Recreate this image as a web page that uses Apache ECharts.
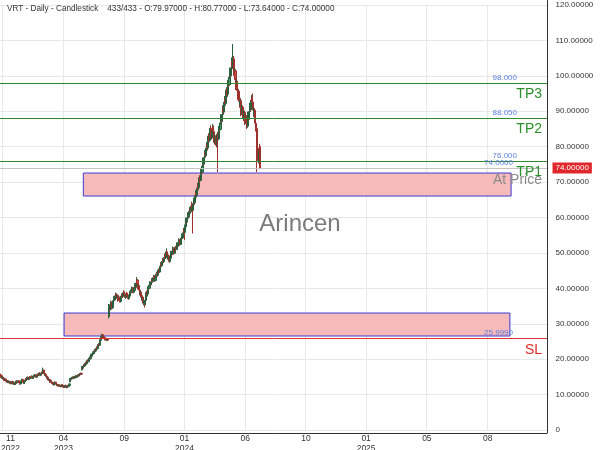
<!DOCTYPE html>
<html>
<head>
<meta charset="utf-8">
<script src="https://cdn.jsdelivr.net/npm/echarts/dist/echarts.min.js"></script>
<style>html,body{margin:0;padding:0;background:#fff}#c{width:600px;height:450px}</style>
</head>
<body>
<div id="c"></div>
<script>
// Daily candles, each row: [open, close, low, high]
const candles = [
[15.2,15.6,15.0,15.9],[15.6,15.3,15.1,15.8],[15.3,14.8,14.6,15.4],[14.8,14.9,14.5,15.2],[14.9,14.5,14.3,15.0],[14.5,14.7,14.3,14.9],[14.7,14.3,14.1,14.8],[14.3,14.0,13.8,14.5],[14.0,14.4,13.9,14.6],[14.4,14.1,13.9,14.5],
[14.1,13.7,13.5,14.2],[13.7,13.9,13.5,14.1],[13.9,13.5,13.3,14.0],[13.5,13.8,13.4,14.0],[13.8,13.4,13.2,13.9],[13.4,13.6,13.2,13.8],[13.6,13.3,13.1,13.7],[13.3,13.5,13.1,13.7],[13.5,13.1,12.9,13.6],[13.1,13.3,12.9,13.5],
[13.3,13.7,13.2,13.9],[13.7,13.4,13.2,13.8],[13.4,13.0,12.8,13.5],[13.0,13.2,12.8,13.4],[13.2,12.9,12.7,13.3],[12.9,13.1,12.7,13.3],[13.1,13.5,13.0,13.7],[13.5,13.8,13.3,14.0],[13.8,13.4,13.2,13.9],[13.4,13.6,13.2,13.8],
[13.6,13.9,13.4,14.1],[13.9,13.5,13.3,14.0],[13.5,13.2,13.0,13.6],[13.2,13.0,12.8,13.4],[13.0,13.4,12.9,13.6],[13.4,13.9,13.3,14.1],[13.9,14.3,13.7,14.5],[14.3,13.9,13.7,14.4],[13.9,13.5,13.3,14.0],[13.5,13.2,13.0,13.6],
[13.2,13.6,13.0,13.8],[13.6,14.0,13.5,14.2],[14.0,14.4,13.8,14.6],[14.4,14.2,14.0,14.7],[14.2,14.6,14.0,14.8],[14.6,14.9,14.4,15.1],[14.9,14.5,14.3,15.0],[14.5,14.3,14.1,14.7],[14.3,14.7,14.2,14.9],[14.7,15.0,14.5,15.2],
[15.0,14.6,14.4,15.1],[14.6,14.8,14.4,15.0],[14.8,15.2,14.7,15.4],[15.2,14.9,14.7,15.3],[14.9,14.6,14.4,15.0],[14.6,15.0,14.5,15.2],[15.0,15.4,14.9,15.6],[15.4,15.1,14.9,15.5],[15.1,15.6,15.0,15.8],[15.6,15.3,15.1,15.8],
[15.3,14.9,14.7,15.4],[14.9,15.3,14.8,15.5],[15.3,15.7,15.2,15.9],[15.7,15.4,15.2,15.9],[15.4,15.8,15.3,16.0],[15.8,16.1,15.6,16.3],[16.1,15.7,15.5,16.2],[15.7,15.5,15.3,15.9],[15.5,15.9,15.4,16.1],[15.9,16.3,15.8,16.5],
[16.3,16.0,15.8,16.6],[16.0,16.9,15.9,17.6],[16.9,16.2,16.0,17.1],[16.2,16.0,15.8,16.4],[16.0,15.5,15.3,16.1],[15.5,15.7,15.3,15.9],[15.7,15.2,15.0,15.8],[15.2,14.8,14.6,15.3],[14.8,14.9,14.5,15.1],[14.9,14.4,14.2,15.0],
[14.4,14.1,13.9,14.5],[14.1,14.3,13.9,14.5],[14.3,13.8,13.6,14.4],[13.8,13.6,13.3,13.9],[13.6,13.9,13.4,14.1],[13.9,13.5,13.3,14.0],[13.5,13.2,13.0,13.6],[13.2,13.4,12.9,13.6],[13.4,13.0,12.8,13.5],[13.0,12.8,12.6,13.2],
[12.8,13.1,12.6,13.3],[13.1,13.5,13.0,13.7],[13.5,13.2,13.0,13.6],[13.2,12.9,12.7,13.3],[12.9,12.6,12.4,13.0],[12.6,12.8,12.4,13.0],[12.8,12.5,12.3,12.9],[12.5,12.7,12.3,12.9],[12.7,12.4,12.2,12.8],[12.4,12.6,12.2,12.8],
[12.6,12.3,12.1,12.7],[12.3,12.5,12.1,12.7],[12.5,12.8,12.4,13.0],[12.8,12.5,12.3,12.9],[12.5,12.2,12.0,12.6],[12.2,12.4,12.0,12.6],[12.4,12.1,11.9,12.5],[12.1,12.3,11.9,12.5],[12.3,12.6,12.2,12.8],[12.6,12.3,12.1,12.7],
[12.3,12.0,11.8,12.4],[12.0,12.2,11.8,12.4],[12.2,12.5,12.1,12.7],[12.5,12.3,12.1,12.6],[12.3,12.6,12.2,12.8],[12.6,13.0,12.5,13.2],[13.6,14.5,13.5,14.7],[14.5,14.3,14.1,14.7],[14.3,14.7,14.2,14.9],[14.7,14.5,14.3,14.9],
[14.5,14.9,14.4,15.1],[14.9,14.6,14.4,15.0],[14.6,14.8,14.4,15.0],[14.8,15.1,14.7,15.3],[15.1,14.8,14.6,15.2],[14.8,15.0,14.6,15.2],[15.0,15.3,14.9,15.5],[15.3,15.0,14.8,15.4],[15.0,15.2,14.8,15.4],[15.2,15.5,15.1,15.7],
[15.5,15.3,15.1,15.6],[15.3,15.6,15.2,15.8],[15.6,15.9,15.5,16.1],[15.9,15.7,15.5,16.0],[15.7,16.0,15.6,16.2],[16.0,15.8,15.6,16.1],[17.0,17.8,16.8,18.1],[17.8,17.5,17.2,18.0],[17.5,18.0,17.4,18.3],[18.0,18.4,17.8,18.6],
[18.4,18.1,17.9,18.7],[18.1,18.6,18.0,18.9],[18.6,19.0,18.4,19.3],[19.0,18.7,18.5,19.2],[18.7,19.2,18.6,19.5],[19.2,19.6,19.0,19.9],[19.6,19.3,19.1,19.9],[19.3,19.8,19.2,20.1],[19.8,20.3,19.6,20.6],[20.3,20.1,19.8,20.6],
[20.1,20.7,20.0,21.0],[20.7,21.2,20.5,21.5],[21.2,20.9,20.6,21.4],[20.9,21.5,20.8,21.8],[21.5,21.9,21.3,22.2],[21.9,21.6,21.3,22.1],[21.6,22.1,21.5,22.4],[22.1,22.6,22.0,22.9],[22.6,22.3,22.0,22.8],[22.3,22.8,22.2,23.1],
[22.8,23.3,22.6,23.6],[23.3,23.0,22.7,23.5],[23.0,23.6,22.9,23.9],[23.6,24.2,23.4,24.5],[24.2,23.9,23.6,24.4],[23.9,24.6,23.8,24.9],[24.6,25.3,24.4,25.6],[25.3,25.9,25.1,26.2],[25.9,26.4,25.7,26.8],[26.4,26.9,26.1,27.2],
[26.9,26.5,26.2,27.1],[26.5,26.0,25.8,26.7],[26.0,26.3,25.8,26.6],[26.3,25.8,25.6,26.4],[25.8,25.5,25.3,26.0],[25.5,25.9,25.3,26.1],[25.9,25.6,25.4,26.0],[25.6,25.3,25.1,25.8],[25.3,25.7,25.2,25.9],[25.7,25.4,25.2,25.8],
[32.0,33.5,31.5,34.5],[33.5,34.8,33.2,35.6],[34.8,34.0,33.5,35.5],[34.0,35.2,33.8,35.8],[35.2,36.0,34.9,36.5],[36.0,35.3,34.8,36.3],[35.3,34.5,34.0,35.6],[34.5,35.4,34.2,35.9],[35.4,36.5,35.1,37.0],[36.5,37.3,36.2,37.8],
[37.3,36.8,36.4,37.7],[36.8,37.5,36.5,38.0],[37.5,38.3,37.2,38.8],[38.3,37.6,37.2,38.6],[37.6,38.0,37.1,38.4],[38.0,37.2,36.8,38.3],[37.2,36.7,36.2,37.5],[36.7,37.4,36.5,37.8],[37.4,36.9,36.6,37.7],[36.9,36.3,36.0,37.1],
[36.3,36.8,36.0,37.2],[36.8,37.5,36.6,37.9],[37.5,38.2,37.3,38.6],[38.2,37.7,37.3,38.5],[37.7,38.4,37.5,38.8],[38.4,39.0,38.1,39.4],[39.0,38.5,38.2,39.3],[38.5,37.9,37.6,38.8],[37.9,37.4,37.1,38.1],[37.4,37.9,37.1,38.3],
[37.9,38.6,37.7,39.0],[38.6,38.2,37.8,39.0],[38.2,37.6,37.3,38.4],[37.6,37.1,36.8,37.9],[37.1,37.8,36.9,38.1],[37.8,38.5,37.6,38.9],[38.5,39.2,38.3,39.6],[39.2,38.8,38.4,39.6],[38.8,39.5,38.6,39.9],[39.5,40.1,39.2,40.5],
[40.1,39.6,39.2,40.4],[39.6,38.9,38.6,39.9],[38.9,39.4,38.7,39.8],[39.4,40.2,39.1,40.6],[40.2,41.0,39.9,41.5],[41.0,40.4,40.0,41.3],[40.4,41.5,40.2,42.0],[41.5,42.3,41.1,43.2],[42.3,41.2,40.8,42.6],[41.2,40.1,39.7,41.5],
[40.1,40.6,39.6,41.1],[40.6,39.5,39.1,40.9],[39.5,38.4,38.0,39.8],[38.4,38.9,38.0,39.4],[38.9,37.8,37.4,39.2],[37.8,36.9,36.5,38.1],[36.9,37.5,36.4,38.0],[37.5,36.6,36.2,37.8],[36.6,35.8,35.4,37.0],[35.8,36.4,35.2,36.8],
[36.4,35.5,34.6,36.7],[35.5,36.6,35.2,37.0],[36.6,37.8,36.4,38.2],[37.8,38.9,37.6,39.3],[38.9,38.4,38.0,39.3],[38.4,39.6,38.2,40.0],[39.6,40.5,39.3,40.9],[40.5,40.0,39.6,40.9],[40.0,40.9,39.8,41.3],[40.9,41.6,40.6,42.0],
[41.6,41.1,40.7,41.9],[41.1,41.8,40.9,42.2],[41.8,42.5,41.5,42.9],[42.5,42.0,41.6,42.9],[42.0,42.7,41.8,43.1],[42.7,43.4,42.4,43.8],[43.4,42.8,42.4,43.7],[42.8,42.2,41.8,43.1],[42.2,42.9,42.0,43.3],[42.9,43.7,42.7,44.1],
[43.7,44.3,43.4,44.7],[44.3,43.7,43.3,44.6],[43.7,44.5,43.5,44.9],[44.5,45.2,44.2,45.6],[45.2,44.6,44.2,45.5],[44.6,45.4,44.4,45.8],[45.4,46.2,45.1,46.6],[46.2,47.0,45.9,47.4],[47.0,46.4,46.0,47.3],[46.4,47.3,46.2,47.7],
[47.3,48.1,47.0,48.6],[48.1,47.5,47.1,48.4],[47.5,48.4,47.3,48.8],[48.4,49.3,48.1,49.8],[49.3,48.6,48.2,49.6],[48.6,49.5,48.4,50.0],[49.5,50.3,49.2,51.3],[50.3,49.4,49.0,50.6],[49.4,48.5,48.1,49.7],[48.5,49.2,48.2,49.6],
[49.2,48.3,47.9,49.5],[48.3,47.6,47.2,48.6],[47.6,48.5,47.4,48.9],[48.5,49.4,48.3,49.8],[49.4,50.2,49.1,50.6],[50.2,49.6,49.2,50.5],[49.6,50.5,49.4,50.9],[50.5,51.3,50.2,51.8],[51.3,50.7,50.3,51.6],[50.7,49.9,49.5,51.0],
[49.9,50.8,49.7,51.2],[50.8,51.6,50.5,52.0],[51.6,51.0,50.6,51.9],[51.0,51.8,50.8,52.2],[51.8,52.6,51.5,53.0],[52.6,52.0,51.6,52.9],[52.0,52.9,51.8,53.3],[52.9,53.7,52.6,54.1],[53.7,53.1,52.7,54.0],[53.1,52.4,52.0,53.4],
[52.4,53.3,52.2,53.7],[53.3,54.2,53.0,54.6],[54.2,55.0,53.9,55.5],[55.0,54.3,53.9,55.3],[54.3,55.4,54.1,55.8],[55.4,56.6,55.1,57.1],[56.6,55.8,53.6,57.0],[55.8,57.4,55.5,58.0],[57.4,58.6,57.1,59.1],[58.6,59.5,58.2,60.0],
[59.5,58.8,58.3,59.9],[58.8,59.9,58.6,60.4],[59.9,61.0,59.6,61.5],[61.0,60.2,59.7,61.3],[60.2,61.3,60.0,61.8],[61.3,62.4,61.0,63.0],[62.4,61.6,61.1,62.8],[61.6,62.8,61.3,63.3],[62.8,63.9,62.5,64.5],[63.9,63.0,62.5,64.3],
[63.0,62.2,55.5,63.4],[62.2,63.6,61.9,64.1],[63.6,65.0,63.3,65.6],[65.0,64.2,63.7,65.4],[64.2,65.7,64.0,66.3],[65.7,67.1,65.4,67.7],[67.1,66.3,65.8,67.5],[66.3,67.8,66.0,68.4],[67.8,69.2,67.5,69.8],[69.2,68.4,67.9,69.6],
[68.4,69.9,68.1,70.5],[69.9,71.3,69.5,71.9],[71.3,70.5,69.8,71.8],[70.5,72.1,70.2,72.8],[72.1,73.6,71.8,74.3],[73.6,72.8,72.2,74.0],[72.8,74.5,72.5,75.2],[74.5,76.2,74.1,76.9],[76.2,75.3,74.8,76.6],[75.3,77.0,75.0,77.7],
[77.0,78.4,76.6,79.1],[78.4,77.5,77.0,78.8],[77.5,79.0,77.2,79.7],[79.0,80.6,78.6,81.3],[80.6,79.6,79.0,81.0],[79.6,81.4,79.3,82.1],[81.4,83.0,81.0,83.8],[83.0,81.8,81.2,83.5],[81.8,83.6,81.5,84.4],[83.6,85.2,83.1,86.0],
[85.2,84.0,83.4,85.9],[84.0,82.5,82.0,84.4],[82.5,83.9,82.1,84.6],[83.9,85.6,83.4,86.4],[85.6,84.3,83.7,86.0],[84.3,82.6,82.0,84.7],[82.6,81.2,80.6,83.0],[81.2,82.8,80.8,83.5],[82.8,81.5,81.0,83.2],[81.5,80.4,79.8,81.9],
[80.4,82.0,80.0,82.7],[82.0,83.5,81.6,84.2],[83.5,82.2,72.8,84.0],[82.2,84.0,81.8,84.7],[84.0,85.8,83.6,86.5],[85.8,84.9,84.3,86.4],[84.9,86.7,84.6,87.5],[86.7,88.4,86.2,89.2],[88.4,87.3,86.7,88.9],[87.3,89.1,87.0,89.9],
[89.1,90.9,88.7,91.7],[90.9,89.8,89.2,91.4],[89.8,91.8,89.5,92.6],[91.8,93.5,91.3,94.3],[93.5,92.2,91.6,94.0],[92.2,94.1,91.9,94.9],[94.1,96.0,93.6,96.8],[96.0,94.8,94.2,96.5],[94.8,96.9,94.5,97.7],[96.9,98.8,96.4,99.6],
[98.8,97.5,96.9,99.3],[97.5,99.6,97.2,100.4],[99.6,101.5,99.1,102.3],[101.5,100.2,99.6,102.0],[100.2,102.3,99.9,103.1],[102.3,104.0,101.8,105.2],[104.0,102.6,101.9,104.8],[102.6,104.8,102.2,109.0],[104.8,102.5,101.8,105.6],[102.5,100.1,99.4,103.0],
[100.1,101.4,99.5,102.2],[101.4,98.9,98.2,101.9],[98.9,96.8,96.0,99.4],[96.8,98.1,96.2,98.9],[98.1,95.9,95.2,98.6],[95.9,94.0,93.2,96.4],[94.0,95.6,93.5,96.3],[95.6,93.4,92.7,96.1],[93.4,91.8,91.0,93.9],[91.8,93.0,91.2,93.7],
[93.0,91.1,88.6,93.5],[91.1,89.6,88.9,91.6],[89.6,91.2,89.1,91.9],[91.2,89.3,88.6,91.7],[89.3,88.0,87.2,89.8],[88.0,89.7,87.5,90.4],[89.7,88.2,87.5,90.2],[88.2,86.9,86.1,88.7],[86.9,88.4,86.4,89.1],[88.4,87.0,86.3,88.9],
[87.0,85.8,85.0,87.5],[85.8,87.5,85.3,88.2],[87.5,89.2,87.0,89.9],[89.2,88.0,87.4,89.7],[88.0,89.9,87.6,90.6],[89.9,91.6,89.4,92.4],[91.6,90.5,89.9,92.1],[90.5,92.4,90.1,93.2],[92.4,93.8,91.9,94.6],[93.8,92.6,92.0,95.0],
[92.6,90.8,90.2,93.1],[90.8,89.1,88.4,91.3],[89.1,90.3,88.5,91.0],[90.3,88.2,87.5,90.8],[88.2,86.6,85.9,88.7],[86.6,85.1,84.3,87.1],[85.1,82.4,81.7,85.6],[82.4,79.6,72.8,82.9],[79.6,78.0,76.9,80.4],[78.0,76.1,75.2,78.6],
[76.1,78.3,75.5,79.0],[78.3,79.9,77.6,80.8],[79.97,74.0,73.64,80.77]
];

// x axis: trading-day slots (history + projected future slots)
const totalSlots = 910;
const gridTickIdx = [4, 105, 206, 306, 407, 508, 608, 709, 810];
const labelIdx = [17, 105, 206, 306, 407, 508, 608, 709, 810];
const tickLabels = ['11\n2022', '04\n2023', '09', '01\n2024', '06', '10', '01\n2025', '05', '08'];

// price levels
const tpNames = ['TP3', 'TP2', 'TP1'];
const tpPrices = [98.0, 88.05, 76.0];
const tpTexts = ['98.000', '88.050', '76.000'];
const slPrice = 25.999;
const slText = '25.9990';
const lastPrice = 74.0;
const lastText = '74.0000';
const lastAxisText = '74.00000';

// zones (slot index range and price range)
const zoneStart = [138, 106];
const zoneEnd = [849, 847];
const zoneTop = [72.56, 33.03];
const zoneBottom = [66.06, 26.54];

const headerLeft = 'VRT - Daily - Candlestick';
const headerRight = '433/433 - O:79.97000 - H:80.77000 - L:73.64000 - C:74.00000';

const FONT = "'Liberation Sans', Arial, sans-serif";
const slots = Array.from({length: totalSlots}, (_, i) => String(i));

const chart = echarts.init(document.getElementById('c'), null, {renderer: 'canvas'});

const option = {
  animation: false,
  backgroundColor: '#ffffff',
  textStyle: {fontFamily: FONT},
  grid: {left: 0, right: 52.5, top: 5, bottom: 20, containLabel: false, outerBoundsMode: 'none'},
  xAxis: {
    type: 'category', data: slots, boundaryGap: true, offset: 3,
    axisLine: {show: false}, axisTick: {show: false},
    axisLabel: {
      interval: (i) => labelIdx.includes(i),
      formatter: (v, i) => { const k = labelIdx.indexOf(Number(v)); return k >= 0 ? tickLabels[k] : ''; },
      fontSize: 8.5, color: '#333', margin: 1, lineHeight: 10, fontFamily: FONT
    },
    splitLine: {show: true, interval: (i) => gridTickIdx.includes(i), lineStyle: {color: '#e8e8e8', width: 1}}
  },
  yAxis: {
    type: 'value', position: 'right', min: 0, max: 120, interval: 10,
    axisLine: {show: false}, axisTick: {show: false},
    axisLabel: {formatter: (v) => v === 0 ? '0' : v.toFixed(5), fontSize: 8, color: '#333', margin: 8, fontFamily: FONT},
    splitLine: {lineStyle: {color: '#e8e8e8', width: 1}}
  },
  series: [
    {
      type: 'line', data: [], z: 1, silent: true,
      markArea: {
        silent: true,
        itemStyle: {color: '#f7baba', borderColor: '#3b3bd4', borderWidth: 1},
        data: zoneStart.map((s, k) => [{xAxis: s, yAxis: zoneTop[k]}, {xAxis: zoneEnd[k], yAxis: zoneBottom[k]}])
      }
    },
    {
      type: 'candlestick', data: candles, z: 3, barWidth: 1.6,
      itemStyle: {color: '#3f9d5e', color0: '#d9534f', borderColor: '#2a5f3e', borderColor0: '#a0302c', borderWidth: 1}
    },
    {
      type: 'line', data: [], z: 5, silent: true,
      markLine: {
        silent: true, symbol: 'none',
        lineStyle: {color: '#2f8a2f', width: 1, type: 'solid', opacity: 1},
        label: {show: false},
        data: tpPrices.map(p => ({yAxis: p}))
      }
    },
    {
      type: 'line', data: [], z: 4, silent: true,
      markLine: {
        silent: true, symbol: 'none',
        lineStyle: {color: '#c4c4c4', width: 1, type: 'solid', opacity: 1},
        label: {show: true, position: 'end', formatter: lastAxisText, color: '#fff', backgroundColor: '#e0282c',
                fontSize: 8, padding: [2, 3, 1, 3], distance: 5, fontFamily: FONT},
        data: [{yAxis: lastPrice}]
      }
    },
    {
      type: 'line', data: [], z: 5, silent: true,
      markLine: {
        silent: true, symbol: 'none',
        lineStyle: {color: '#e03535', width: 1, type: 'solid', opacity: 1},
        label: {show: false},
        data: [{yAxis: slPrice}]
      }
    }
  ]
};
chart.setOption(option);

const yPx = (v) => chart.convertToPixel({yAxisIndex: 0}, v);
const blue = '#5b7fdc';
const g = [
  {type: 'line', shape: {x1: 547.5, y1: 0, x2: 547.5, y2: 433}, style: {stroke: '#333', lineWidth: 1}, z: 10},
  {type: 'line', shape: {x1: 0, y1: 433.5, x2: 547.5, y2: 433.5}, style: {stroke: '#333', lineWidth: 1}, z: 10},
  {type: 'text', x: 7, y: 9, style: {text: headerLeft, fill: '#333', font: '8.2px ' + FONT, verticalAlign: 'middle'}, z: 10},
  {type: 'text', x: 107.3, y: 9, style: {text: headerRight, fill: '#333', font: '8.2px ' + FONT, verticalAlign: 'middle'}, z: 10},
  {type: 'text', x: 300, y: 224, style: {text: 'Arincen', fill: '#7b7b7b', font: '24px ' + FONT, align: 'center', verticalAlign: 'middle'}, z: 10}
];
tpPrices.forEach((p, k) => {
  const y = yPx(p);
  g.push({type: 'text', x: 517, y: y - 1, style: {text: tpTexts[k], fill: blue, font: '8px ' + FONT, align: 'right', verticalAlign: 'bottom'}, z: 10});
  g.push({type: 'text', x: 542, y: y + 11, style: {text: tpNames[k], fill: '#2a8f2a', font: '14px ' + FONT, align: 'right', verticalAlign: 'middle'}, z: 10});
});
{
  const y = yPx(lastPrice);
  g.push({type: 'text', x: 513, y: y - 1, style: {text: lastText, fill: blue, font: '8px ' + FONT, align: 'right', verticalAlign: 'bottom'}, z: 10});
  g.push({type: 'text', x: 542, y: y + 12, style: {text: 'At Price', fill: '#8a8a8a', font: '14px ' + FONT, align: 'right', verticalAlign: 'middle'}, z: 10});
}
{
  const y = yPx(slPrice);
  g.push({type: 'text', x: 513, y: y - 1, style: {text: slText, fill: blue, font: '8px ' + FONT, align: 'right', verticalAlign: 'bottom'}, z: 10});
  g.push({type: 'text', x: 542, y: y + 12, style: {text: 'SL', fill: '#e02626', font: '14px ' + FONT, align: 'right', verticalAlign: 'middle'}, z: 10});
}
chart.setOption({graphic: {elements: g}});
</script>
</body>
</html>
